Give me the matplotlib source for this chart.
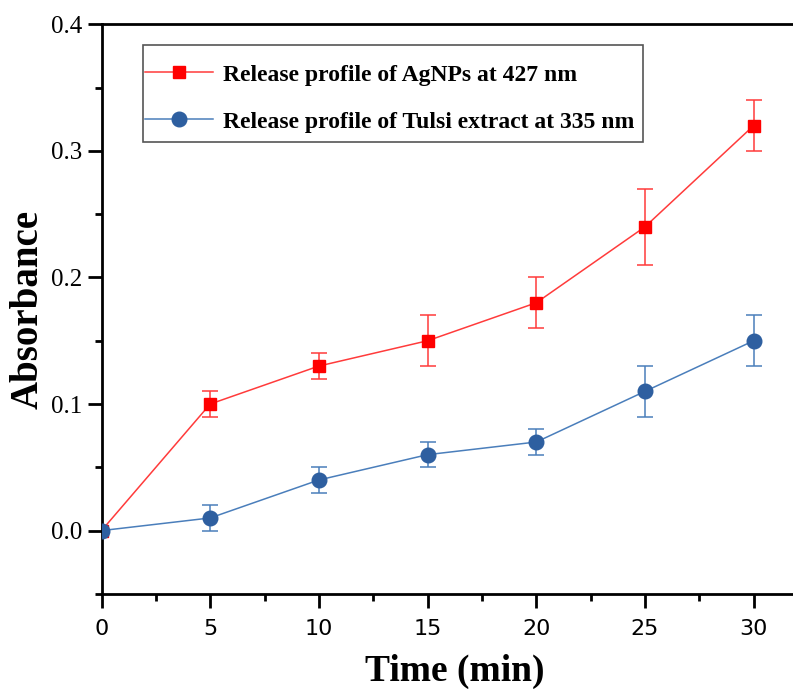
import matplotlib
matplotlib.use("Agg")
import matplotlib.pyplot as plt
from matplotlib.patches import Rectangle
from matplotlib.ticker import MultipleLocator

# ── data ──
time_min = [0, 5, 10, 15, 20, 25, 30]
agnps = [0.0, 0.10, 0.13, 0.15, 0.18, 0.24, 0.32]
agnps_err = [0.0, 0.01, 0.01, 0.02, 0.02, 0.03, 0.02]
tulsi = [0.0, 0.01, 0.04, 0.06, 0.07, 0.11, 0.15]
tulsi_err = [0.0, 0.01, 0.01, 0.01, 0.01, 0.02, 0.02]
labels = ["Release profile of AgNPs at 427 nm",
          "Release profile of Tulsi extract at 335 nm"]

serif = "Liberation Serif"

fig = plt.figure(figsize=(7.93, 6.93), dpi=100)
# axes runs a little past the right edge (right spine is cropped off)
ax = fig.add_axes([0.128, 0.143, 0.891, 0.822])

eb1 = ax.errorbar(time_min, agnps, yerr=agnps_err, color="#FF3B3B", lw=1.1,
                  marker="s", ms=9, mfc="#FF0000", mec="#FF0000",
                  ecolor="#FF3B3B", elinewidth=1.1, capsize=6, capthick=1.1,
                  zorder=3)
eb2 = ax.errorbar(time_min, tulsi, yerr=tulsi_err, color="#4A7EBB", lw=1.1,
                  marker="o", ms=10.5, mfc="#2E5FA0", mec="#2E5FA0",
                  ecolor="#4A7EBB", elinewidth=1.1, capsize=6, capthick=1.1,
                  zorder=3)

ax.set_xlim(0, 32.5)
ax.set_ylim(-0.05, 0.4)
ax.xaxis.set_major_locator(MultipleLocator(5))
ax.xaxis.set_minor_locator(MultipleLocator(2.5))
ax.yaxis.set_major_locator(MultipleLocator(0.1))
ax.yaxis.set_minor_locator(MultipleLocator(0.05))
ax.yaxis.set_major_formatter(plt.FormatStrFormatter("%.1f"))

ax.tick_params(which="major", direction="out", length=10, width=2)
ax.tick_params(which="minor", direction="out", length=5, width=2)
ax.tick_params(axis="x", labelsize=16, pad=8)
ax.tick_params(axis="y", labelsize=18, pad=4)
for lbl in ax.get_yticklabels():
    lbl.set_family(serif)
for lbl in ax.get_xticklabels():
    lbl.set_family("DejaVu Sans")

for side in ("left", "bottom", "top"):
    ax.spines[side].set_linewidth(2)
ax.spines["right"].set_visible(False)

ax.set_xlabel("Time (min)", fontsize=27, fontweight="bold", family=serif,
              labelpad=11)
ax.set_ylabel("Absorbance", fontsize=28, fontweight="bold", family=serif,
              labelpad=3)

# legend: tight horizontally, roomy vertically, so frame drawn separately
leg = ax.legend(handles=[eb1[0], eb2[0]], labels=labels,
                loc="upper left", bbox_to_anchor=(0.061, 0.930),
                borderaxespad=0, borderpad=0,
                prop={"family": serif, "weight": "bold", "size": 17},
                frameon=False, handlelength=2.9,
                labelspacing=1.08, handletextpad=0.4)
ax.add_patch(Rectangle((0.0593, 0.793), 0.707, 0.170, transform=ax.transAxes,
                       fill=False, edgecolor="#555555", lw=1.2, zorder=4))

fig.savefig("out.png", dpi=100)
